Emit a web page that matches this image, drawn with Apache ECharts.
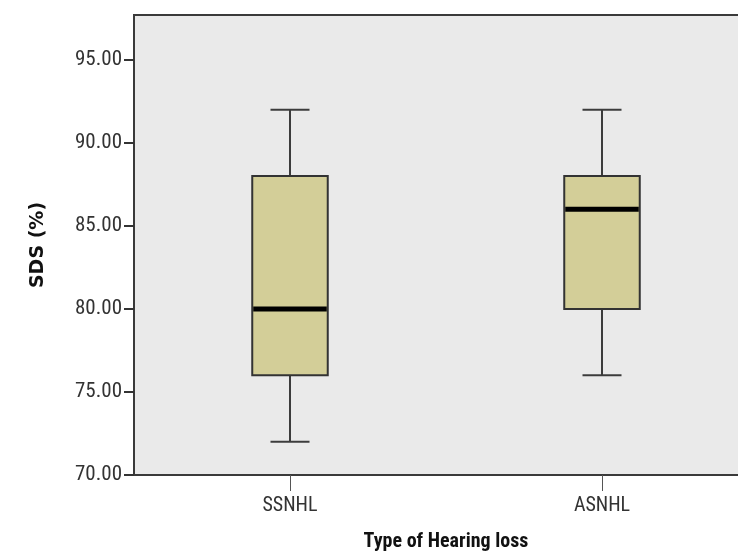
<!DOCTYPE html>
<html>
<head>
<meta charset="utf-8">
<script src="https://cdn.jsdelivr.net/npm/echarts@6/dist/echarts.min.js"></script>
<style>html,body{margin:0;padding:0;background:#fff;}#c{width:738px;height:553px;}</style>
</head>
<body>
<div id="c"></div>
<script>
var categories = ['SSNHL', 'ASNHL'];
var whiskerLow = [72, 76];
var q1 = [76, 80];
var median = [80, 86];
var q3 = [88, 88];
var whiskerHigh = [92, 92];
var yTicks = [70, 75, 80, 85, 90, 95];

var boxData = categories.map(function (c, i) {
  return [i, whiskerLow[i], q1[i], median[i], q3[i], whiskerHigh[i]];
});

var chart = echarts.init(document.getElementById('c'), null, {renderer: 'canvas'});
var labelFont = '"Liberation Sans Narrow", "Roboto Condensed", "Liberation Sans", sans-serif';

chart.setOption({
  backgroundColor: '#ffffff',
  animation: false,
  grid: {
    left: 134, top: 15, width: 624, bottom: 78,
    containLabel: false,
    outerBoundsMode: 'none',
    show: true, backgroundColor: '#EAEAEA', borderColor: '#3a3a3a', borderWidth: 2
  },
  xAxis: {
    type: 'category',
    data: categories,
    name: 'Type of Hearing loss',
    nameLocation: 'middle',
    nameGap: 57,
    nameTextStyle: {fontFamily: labelFont, fontWeight: 'bold', fontSize: 20, color: '#111'},
    axisLine: {lineStyle: {color: '#3a3a3a', width: 2}},
    axisTick: {show: true, inside: false, alignWithLabel: true, length: 16, lineStyle: {color: '#555', width: 1}},
    axisLabel: {fontFamily: labelFont, fontSize: 20, color: '#333', margin: 21},
    splitLine: {show: false}
  },
  yAxis: {
    type: 'value',
    min: 70,
    max: 97.7,
    interval: 5,
    name: 'SDS (%)',
    nameLocation: 'middle',
    nameGap: 86,
    nameRotate: 90,
    nameTextStyle: {fontFamily: '"DejaVu Sans", sans-serif', fontWeight: 'bold', fontSize: 19, color: '#111'},
    axisLine: {show: true, lineStyle: {color: '#3a3a3a', width: 2}},
    axisTick: {show: true, inside: false, length: 10, lineStyle: {color: '#333', width: 2}},
    axisLabel: {
      fontFamily: labelFont, fontSize: 21, color: '#333', margin: 12,
      showMaxLabel: false,
      formatter: function (v) { return yTicks.indexOf(v) >= 0 ? v.toFixed(2) : ''; }
    },
    splitLine: {show: false}
  },
  series: [{
    type: 'custom',
    data: boxData,
    encode: {x: 0, y: [1, 2, 3, 4, 5]},
    renderItem: function (params, api) {
      var idx = api.value(0);
      var band = api.size([1, 0])[0];
      var boxW = band * 0.242;
      var capW = band * 0.125;
      var pLow = api.coord([idx, api.value(1)]);
      var pQ1 = api.coord([idx, api.value(2)]);
      var pMed = api.coord([idx, api.value(3)]);
      var pQ3 = api.coord([idx, api.value(4)]);
      var pHigh = api.coord([idx, api.value(5)]);
      var cx = pLow[0];
      var lineStyle = {stroke: '#3c3c3c', lineWidth: 2};
      return {
        type: 'group',
        children: [
          {type: 'line', shape: {x1: cx, y1: pLow[1], x2: cx, y2: pQ1[1]}, style: lineStyle},
          {type: 'line', shape: {x1: cx, y1: pQ3[1], x2: cx, y2: pHigh[1]}, style: lineStyle},
          {type: 'line', shape: {x1: cx - capW / 2, y1: pLow[1], x2: cx + capW / 2, y2: pLow[1]}, style: lineStyle},
          {type: 'line', shape: {x1: cx - capW / 2, y1: pHigh[1], x2: cx + capW / 2, y2: pHigh[1]}, style: lineStyle},
          {type: 'rect', shape: {x: cx - boxW / 2, y: pQ3[1], width: boxW, height: pQ1[1] - pQ3[1]},
            style: {fill: '#D3CE98', stroke: '#333333', lineWidth: 2}},
          {type: 'line', shape: {x1: cx - boxW / 2 + 1, y1: pMed[1], x2: cx + boxW / 2 - 1, y2: pMed[1]},
            style: {stroke: '#000000', lineWidth: 5}}
        ]
      };
    }
  }]
});
</script>
</body>
</html>
